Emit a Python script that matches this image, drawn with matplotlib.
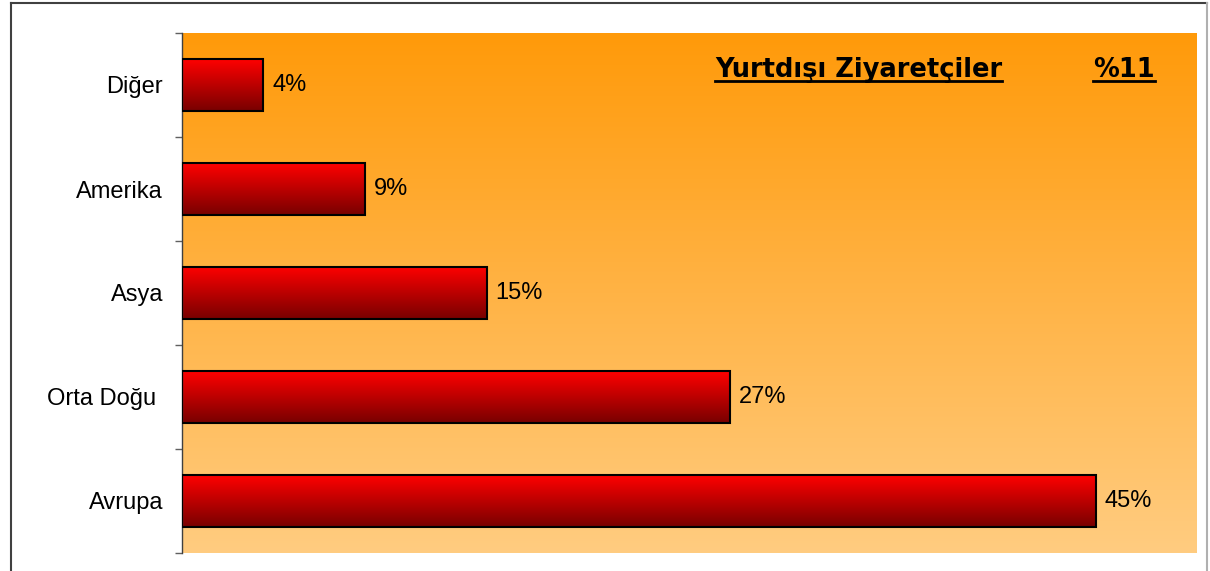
import numpy as np
import matplotlib
matplotlib.use('Agg')
import matplotlib.pyplot as plt
from matplotlib.colors import LinearSegmentedColormap
from matplotlib.lines import Line2D

regions = ['Avrupa', 'Orta Doğu ', 'Asya', 'Amerika', 'Diğer']
shares = [45, 27, 15, 9, 4]
title_text = 'Yurtdışı Ziyaretçiler'
title_value = '%11'

plt.rcParams['font.family'] = ['Liberation Sans', 'DejaVu Sans']

fig = plt.figure(figsize=(12.1, 5.71), dpi=100)
ax = fig.add_axes([182/1210, 1-553/571, (1197-182)/1210, (553-33)/571])

# orange background gradient
bg = LinearSegmentedColormap.from_list('bg', ['#FFCC80', '#FF9A0A'])
grad = np.linspace(0, 1, 256).reshape(-1, 1)
ax.imshow(grad, cmap=bg, origin='lower', aspect='auto',
          extent=[0, 50, -0.5, len(regions)-0.5], zorder=0)

y = np.arange(len(regions))
bars = ax.barh(y, shares, height=0.5, color='none', edgecolor='black',
               linewidth=1.5, zorder=3)

# red gradient inside each bar
barmap = LinearSegmentedColormap.from_list('bar', ['#780000', '#FF0000'])
for b in bars:
    x0, y0 = b.get_x(), b.get_y()
    im = ax.imshow(grad, cmap=barmap, origin='lower', aspect='auto',
                   extent=[x0, x0 + b.get_width(), y0, y0 + b.get_height()],
                   zorder=2)
    im.set_clip_path(b)

ax.bar_label(bars, labels=[f'{v}%' for v in shares], padding=6.5,
             fontsize=17, color='black')

ax.set_xlim(0, 50)
ax.set_ylim(-0.5, len(regions)-0.5)
ax.set_yticks(y)
ax.set_yticklabels(regions, fontsize=17)
ax.set_yticks(np.arange(-0.5, len(regions), 1), minor=True)
ax.tick_params(axis='y', which='major', length=0, pad=13.7)
ax.tick_params(axis='y', which='minor', length=5, width=1, color='#606060')
ax.set_xticks([])
for s in ['top', 'right', 'bottom']:
    ax.spines[s].set_visible(False)
ax.spines['left'].set_color('#404040')
ax.spines['left'].set_linewidth(1)

# title texts with underline
t1 = fig.text(715/1210, 1-77/571, title_text, fontsize=18.5, fontweight='bold',
              family='DejaVu Sans', va='baseline', ha='left')
t2 = fig.text(1093/1210, 1-77/571, title_value, fontsize=18.5, fontweight='bold',
              family='DejaVu Sans', va='baseline', ha='left')
fig.canvas.draw()
r = fig.canvas.get_renderer()
for t in (t1, t2):
    bb = t.get_window_extent(r)
    fig.add_artist(Line2D([bb.x0/1210, bb.x1/1210], [1-81/571, 1-81/571],
                          transform=fig.transFigure, color='black', linewidth=2))

# outer frame
fig.add_artist(Line2D([11/1210, 11/1210], [0, 1-3/571], transform=fig.transFigure,
                      color='#404040', linewidth=1.5))
fig.add_artist(Line2D([11/1210, 1207/1210], [1-3/571, 1-3/571], transform=fig.transFigure,
                      color='#404040', linewidth=1.5))
fig.add_artist(Line2D([1207/1210, 1207/1210], [0, 1-3/571], transform=fig.transFigure,
                      color='#B0B0B0', linewidth=1.5))

fig.savefig('out.png', dpi=100)
